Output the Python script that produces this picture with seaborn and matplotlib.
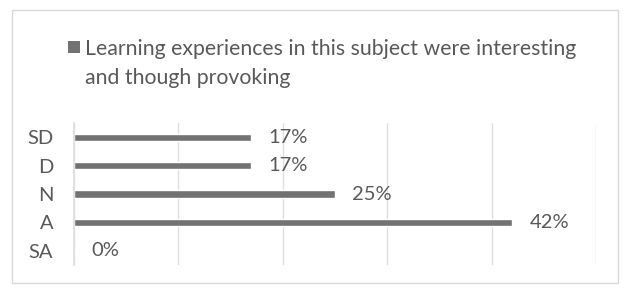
import matplotlib
matplotlib.use("Agg")
import matplotlib.pyplot as plt
import seaborn as sns
import pandas as pd
from matplotlib.patches import Rectangle
from matplotlib.ticker import MultipleLocator

categories = ["SD", "D", "N", "A", "SA"]
values = [0.17, 0.17, 0.25, 0.42, 0.0]
labels = ["17%", "17%", "25%", "42%", "0%"]
series_lines = ["Learning experiences in this subject were interesting", "and though provoking"]

sns.set_theme(style="white")
plt.rcParams['font.family'] = ['Lato', 'DejaVu Sans']

W, H = 624, 289
FS = 14.5
FS_LEG = 15.3
fig = plt.figure(figsize=(W / 100, H / 100), dpi=100)
fig.patch.set_facecolor("white")
ax = fig.add_axes([74 / W, 1 - 265 / H, (596 - 74) / W, (265 - 123) / H])

df = pd.DataFrame({"cat": categories, "val": values})
sns.barplot(data=df, y="cat", x="val", order=categories, orient="h",
            color="#727272", saturation=1, width=0.26, ax=ax)

ax.set_xlim(0, 0.5)
ax.xaxis.set_major_locator(MultipleLocator(0.1))
ax.grid(axis="x", color="#dedede", linewidth=1)
ax.set_axisbelow(True)
for s in ["top", "right", "bottom"]:
    ax.spines[s].set_visible(False)
ax.spines["left"].set_color("#dedede")
ax.set_xticklabels([])
ax.tick_params(axis="x", length=0)
ax.tick_params(axis="y", length=0, pad=15, labelsize=FS, labelcolor="#595959")
ax.set_xlabel("")
ax.set_ylabel("")

for i, (v, lab) in enumerate(zip(values, labels)):
    ax.annotate(lab, xy=(v, i), xytext=(17, 0), textcoords="offset pixels",
                va="center", ha="left", fontsize=FS, color="#595959")

# legend
fig.patches.append(Rectangle((68 / W, 1 - 53 / H), 12 / W, 12 / H, transform=fig.transFigure,
                             facecolor="#727272", edgecolor="none"))
for k, line in enumerate(series_lines):
    fig.text(85 / W, 1 - (47 + 29 * k) / H, line, ha="left", va="center_baseline", fontsize=FS_LEG,
             color="#595959", transform=fig.transFigure)
# outer border
fig.patches.append(Rectangle((12 / W, 1 - 283 / H), 606 / W, 273 / H, transform=fig.transFigure,
                             facecolor="none", edgecolor="#d9d9d9", linewidth=1))

fig.savefig("out.png", dpi=100)
